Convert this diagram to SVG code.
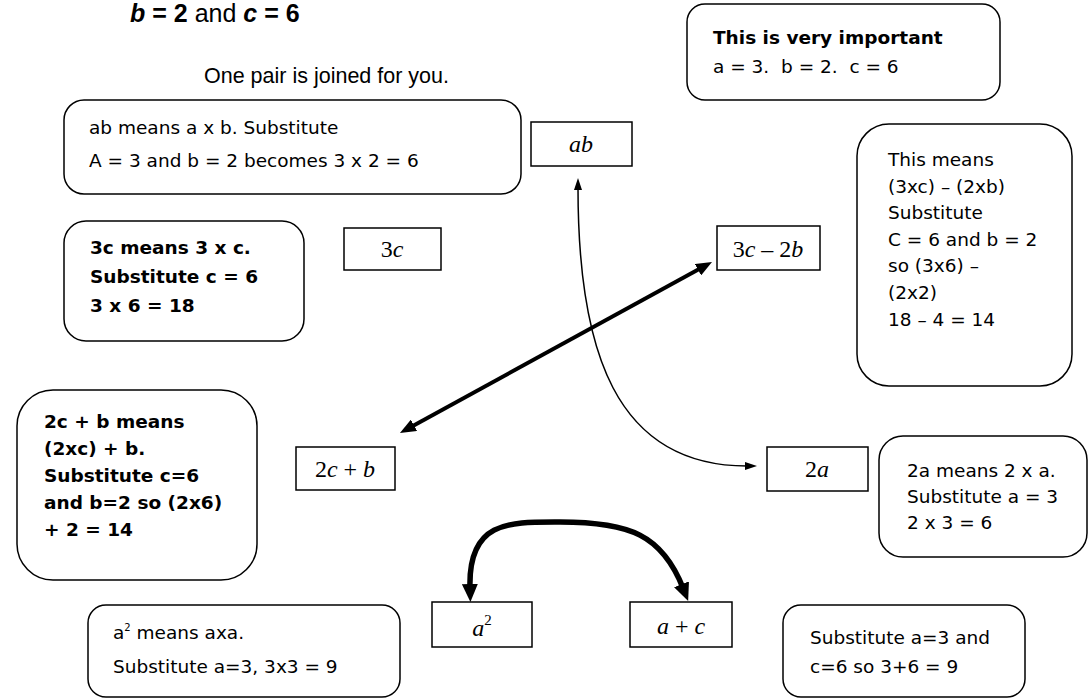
<svg xmlns="http://www.w3.org/2000/svg" width="1089" height="699" viewBox="0 0 1089 699">
<defs>
<style>
.bx{fill:#fff;stroke:#000;stroke-width:1.5}
.rb{fill:#fff;stroke:#000;stroke-width:1.5}
.t{font-family:"Comic Sans MS","DejaVu Sans",sans-serif;font-size:18.5px;fill:#000}
.b{font-weight:bold}
.h{font-family:"Liberation Sans",Arial,sans-serif;fill:#000}
.m{font-family:"Liberation Serif","Times New Roman",serif;font-size:24px;fill:#000;text-anchor:middle}
.i{font-style:italic}
.thin{fill:none;stroke:#000;stroke-width:1.5}
.thick{fill:none;stroke:#000;stroke-width:4}
.thicker{fill:none;stroke:#000;stroke-width:5.5}
</style>
<marker id="ah" markerUnits="userSpaceOnUse" viewBox="0 0 12 8" markerWidth="12" markerHeight="8" refX="2" refY="4" orient="auto-start-reverse"><path d="M0,0 L12,4 L0,8 z" fill="#000"/></marker>
<marker id="ahT" markerUnits="userSpaceOnUse" viewBox="0 0 16 13" markerWidth="16" markerHeight="13" refX="4" refY="6.5" orient="auto-start-reverse"><path d="M0,0 L16,6.5 L0,13 z" fill="#000"/></marker>
<marker id="ahB" markerUnits="userSpaceOnUse" viewBox="0 0 18 16" markerWidth="18" markerHeight="16" refX="4" refY="8" orient="auto-start-reverse"><path d="M0,0 L18,8 L0,16 z" fill="#000"/></marker>
</defs>
<rect width="1089" height="699" fill="#fff"/>

<g id="header">
<text class="h" x="130" y="22" font-size="25"><tspan font-weight="bold" font-style="italic">b</tspan><tspan font-weight="bold"> = 2</tspan> and <tspan font-weight="bold" font-style="italic">c</tspan><tspan font-weight="bold"> = 6</tspan></text>
<text class="h" x="204" y="83" font-size="21.5">One pair is joined for you.</text>
</g>

<g id="connectors">
<path class="thin" d="M578,188 C578,350 615,466 747,466" marker-start="url(#ah)" marker-end="url(#ah)"/>
<path class="thick" d="M410.5,427.2 L701.5,267.8" marker-start="url(#ahT)" marker-end="url(#ahT)"/>
<path class="thicker" d="M470,588 C468,520 510,522 560,522 C630,522 662,535 683,588" marker-start="url(#ahB)" marker-end="url(#ahB)"/>
</g>

<g id="important">
<rect class="rb" x="687" y="4" width="313" height="96" rx="18"/>
<text class="t b" x="713" y="44" font-size="17.5">This is very important</text>
<text class="t" x="713" y="73" xml:space="preserve">a = 3.  b = 2.  c = 6</text>
</g>

<g id="ab-note">
<rect class="rb" x="64" y="100" width="457" height="94" rx="20"/>
<text class="t" x="89" y="134">ab means a x b. Substitute</text>
<text class="t" x="89" y="167">A = 3 and b = 2 becomes 3 x 2 = 6</text>
</g>

<g id="ab">
<rect class="bx" x="531" y="122" width="101" height="44"/>
<text class="m i" x="581" y="152">ab</text>
</g>

<g id="c3-note">
<rect class="rb" x="64" y="221" width="240" height="120" rx="22"/>
<text class="t b" x="90" y="254">3c means 3 x c.</text>
<text class="t b" x="90" y="283">Substitute c = 6</text>
<text class="t b" x="90" y="312">3 x 6 = 18</text>
</g>

<g id="c3">
<rect class="bx" x="344" y="228" width="97" height="42"/>
<text class="m" x="392" y="257">3<tspan class="i">c</tspan></text>
</g>

<g id="c3b2">
<rect class="bx" x="717" y="226" width="103" height="44"/>
<text class="m" x="768" y="257">3<tspan class="i">c</tspan> – 2<tspan class="i">b</tspan></text>
</g>

<g id="c3b2-note">
<rect class="rb" x="857" y="124" width="215" height="262" rx="32"/>
<text class="t" x="888" y="166">This means</text>
<text class="t" x="888" y="193">(3xc) – (2xb)</text>
<text class="t" x="888" y="219">Substitute</text>
<text class="t" x="888" y="246">C = 6 and b = 2</text>
<text class="t" x="888" y="272">so (3x6) –</text>
<text class="t" x="888" y="299">(2x2)</text>
<text class="t" x="888" y="326">18 – 4 = 14</text>
</g>

<g id="c2b-note">
<rect class="rb" x="17" y="390" width="240" height="190" rx="36"/>
<text class="t b" x="44" y="428">2c + b means</text>
<text class="t b" x="44" y="455">(2xc) + b.</text>
<text class="t b" x="44" y="482">Substitute c=6</text>
<text class="t b" x="44" y="509">and b=2 so (2x6)</text>
<text class="t b" x="44" y="536">+ 2 = 14</text>
</g>

<g id="c2b">
<rect class="bx" x="296" y="447" width="99" height="43"/>
<text class="m" x="345" y="477">2<tspan class="i">c</tspan> + <tspan class="i">b</tspan></text>
</g>

<g id="a2">
<rect class="bx" x="767" y="447" width="101" height="44"/>
<text class="m" x="817" y="477">2<tspan class="i">a</tspan></text>
</g>

<g id="a2-note">
<rect class="rb" x="879" y="436" width="208" height="121" rx="24"/>
<text class="t" x="907" y="477">2a means 2 x a.</text>
<text class="t" x="907" y="503">Substitute a = 3</text>
<text class="t" x="907" y="529">2 x 3 = 6</text>
</g>

<g id="asq-note">
<rect class="rb" x="88" y="605" width="312" height="92" rx="18"/>
<text class="t" x="113" y="639">a<tspan font-size="10" dy="-8">2</tspan><tspan dy="8"> means axa.</tspan></text>
<text class="t" x="113" y="673">Substitute a=3, 3x3 = 9</text>
</g>

<g id="asq">
<rect class="bx" x="432" y="602" width="100" height="45"/>
<text class="m" x="482" y="636"><tspan class="i">a</tspan><tspan font-size="15" dy="-11">2</tspan></text>
</g>

<g id="apc">
<rect class="bx" x="630" y="602" width="102" height="45"/>
<text class="m" x="681" y="634"><tspan class="i">a</tspan> + <tspan class="i">c</tspan></text>
</g>

<g id="apc-note">
<rect class="rb" x="783" y="605" width="242" height="92" rx="18"/>
<text class="t" x="810" y="644">Substitute a=3 and</text>
<text class="t" x="810" y="673">c=6 so 3+6 = 9</text>
</g>
</svg>
